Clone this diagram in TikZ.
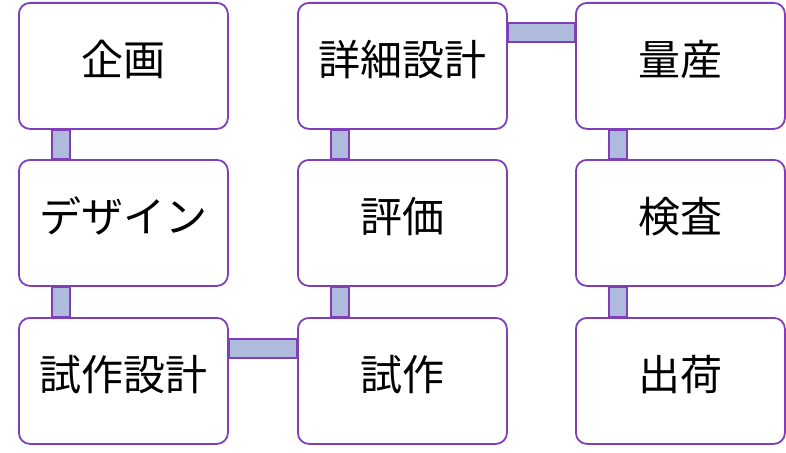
\documentclass[tikz,border=0pt]{standalone}
\usepackage{fontspec}
\newfontfamily\jp{Noto Sans CJK JP}
\usetikzlibrary{calc}
\definecolor{boxline}{HTML}{7E3FB8}
\definecolor{barfill}{HTML}{AFBBDD}
\tikzset{
  stepbox/.style={draw=boxline, line width=1.8pt, fill=white, rounded corners=11pt,
    minimum width=209pt, minimum height=126pt, inner sep=0pt, anchor=north west,
    text height=34pt, text depth=14pt,
    font=\jp\fontsize{42}{46}\selectfont},
  bar/.style={draw=boxline, line width=1.6pt, fill=barfill}
}
\begin{document}
\begin{tikzpicture}[x=1pt,y=1pt]
\useasboundingbox (0,0) rectangle (786,-452);
\node[stepbox] (a1) at (18,-2) {企画};
\node[stepbox] (a2) at (18,-159) {デザイン};
\node[stepbox] (a3) at (18,-317) {試作設計};
\node[stepbox] (b3) at (297,-317) {試作};
\node[stepbox] (b2) at (297,-159) {評価};
\node[stepbox] (b1) at (297,-2) {詳細設計};
\node[stepbox] (c1) at (575,-2) {量産};
\node[stepbox] (c2) at (575,-159) {検査};
\node[stepbox] (c3) at (575,-317) {出荷};
% vertical bars
\draw[bar] ($(a1.south west)+(34,0)$) rectangle ($(a2.north west)+(52,0)$);
\draw[bar] ($(a2.south west)+(34,0)$) rectangle ($(a3.north west)+(52,0)$);
\draw[bar] ($(b3.north west)+(34,0)$) rectangle ($(b2.south west)+(52,0)$);
\draw[bar] ($(b2.north west)+(34,0)$) rectangle ($(b1.south west)+(52,0)$);
\draw[bar] ($(c1.south west)+(34,0)$) rectangle ($(c2.north west)+(52,0)$);
\draw[bar] ($(c2.south west)+(34,0)$) rectangle ($(c3.north west)+(52,0)$);
% horizontal bars
\draw[bar] ($(a3.north east)+(0,-22)$) rectangle ($(b3.north west)+(0,-41)$);
\draw[bar] ($(b1.north east)+(0,-21)$) rectangle ($(c1.north west)+(0,-40)$);
\end{tikzpicture}
\end{document}
